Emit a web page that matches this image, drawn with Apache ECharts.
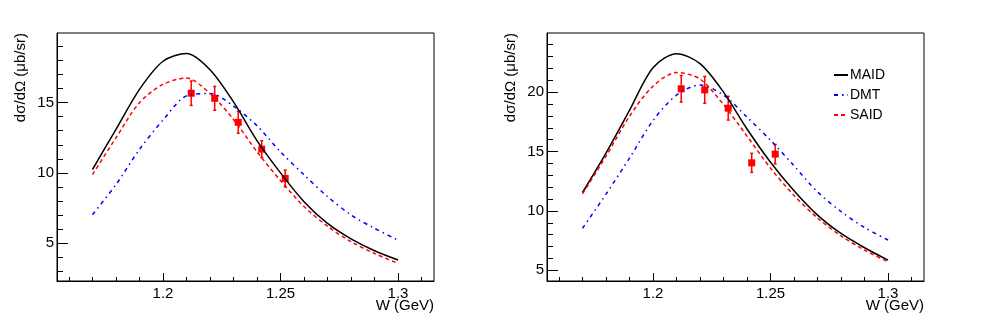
<!DOCTYPE html>
<html>
<head>
<meta charset="utf-8">
<script src="https://cdn.jsdelivr.net/npm/echarts@6/dist/echarts.min.js"></script>
<style>
html,body{margin:0;padding:0;background:#fff;}
#chart{width:981px;height:315px;}
</style>
</head>
<body>
<div id="chart"></div>
<script>
// ---- data ----
const W = [1.17, 1.18, 1.19, 1.20, 1.21, 1.22, 1.23, 1.24, 1.25, 1.26, 1.27, 1.28, 1.29, 1.30];

const maidLeft = [10.24, 13.1, 15.95, 17.95, 18.5, 17.35, 15.05, 12.3, 10.0, 7.95, 6.4, 5.3, 4.45, 3.79];
const saidLeft = [9.88, 12.5, 15.0, 16.3, 16.75, 15.65, 13.8, 11.5, 9.45, 7.6, 6.2, 5.1, 4.26, 3.55];
const dmtLeft  = [7.02, 9.17, 11.67, 13.76, 15.48, 15.65, 14.75, 13.35, 11.5, 9.86, 8.31, 7.0, 6.05, 5.21];

const maidRight = [11.55, 14.87, 18.47, 22.05, 23.24, 22.4, 20.0, 16.9, 14.1, 11.7, 9.65, 8.1, 6.9, 5.86];
const saidRight = [11.44, 14.6, 17.97, 20.5, 21.65, 21.1, 18.95, 16.3, 13.6, 11.3, 9.4, 7.9, 6.7, 5.72];
const dmtRight  = [8.54, 11.41, 14.45, 17.6, 19.75, 20.6, 19.75, 17.9, 15.95, 13.8, 11.6, 9.95, 8.6, 7.55];

const dataW      = [1.212, 1.222, 1.232, 1.242, 1.252];
const dataLeft   = [15.67, 15.31, 13.6, 11.69, 9.6];
const errLeft    = [0.87, 0.85, 0.78, 0.6, 0.6];
const dataRight  = [20.28, 20.19, 18.65, 14.05, 14.78];
const errRight   = [1.12, 1.13, 1.0, 0.8, 0.82];

const xMajorTicks = [1.2, 1.25, 1.3];
const xTickLabels = ['1.2', '1.25', '1.3'];
const xMinorTicks = [1.16, 1.17, 1.18, 1.19, 1.21, 1.22, 1.23, 1.24, 1.26, 1.27, 1.28, 1.29, 1.31];
const yMajorLeft  = [5, 10, 15];
const yMinorLeft  = [3, 4, 6, 7, 8, 9, 11, 12, 13, 14, 16, 17, 18, 19];
const yMajorRight = [5, 10, 15, 20];
const yMinorRight = [6, 7, 8, 9, 11, 12, 13, 14, 16, 17, 18, 19, 21, 22, 23, 24];

const seriesNames = ['MAID', 'DMT', 'SAID'];
const xTitle = 'W (GeV)';
const yTitle = 'dσ/dΩ (μb/sr)';

// ---- chart ----
const FONT = '"Liberation Sans", Arial, Helvetica, sans-serif';
const chart = echarts.init(document.getElementById('chart'), null, {renderer: 'canvas'});

const panels = [
  {left: 57, yMin: 2.3, yMax: 19.96, yMajor: yMajorLeft, yMinor: yMinorLeft,
   maid: maidLeft, said: saidLeft, dmt: dmtLeft, pts: dataLeft, err: errLeft},
  {left: 547, yMin: 4.1, yMax: 24.98, yMajor: yMajorRight, yMinor: yMinorRight,
   maid: maidRight, said: saidRight, dmt: dmtRight, pts: dataRight, err: errRight}
];

const grids = [], xAxes = [], yAxes = [], series = [], graphics = [];
const pair = (xs, ys) => xs.map((x, i) => [x, ys[i]]);

panels.forEach((p, gi) => {
  grids.push({left: p.left, top: 33, width: 377, height: 248, show: true,
    borderColor: '#000', borderWidth: 1, backgroundColor: 'rgba(0,0,0,0)'});
  const xMainIdx = xAxes.length;
  xAxes.push({gridIndex: gi, type: 'value', min: 1.1549, max: 1.3153, position: 'bottom',
    axisLine: {show: true, onZero: false, lineStyle: {color: '#000', width: 1}},
    axisTick: {show: true, inside: true, length: 8, customValues: xMajorTicks, lineStyle: {color: '#000', width: 1}},
    axisLabel: {show: true, customValues: xMajorTicks, margin: 5, fontSize: 15, fontFamily: FONT, color: '#000',
      formatter: v => { const k = xMajorTicks.findIndex(t => Math.abs(t - v) < 1e-6); return k >= 0 ? xTickLabels[k] : ''; }},
    splitLine: {show: false}});
  xAxes.push({gridIndex: gi, type: 'value', min: 1.1549, max: 1.3153, position: 'bottom',
    axisLine: {show: false, onZero: false},
    axisTick: {show: true, inside: true, length: 4, customValues: xMinorTicks, lineStyle: {color: '#000', width: 1}},
    axisLabel: {show: false}, splitLine: {show: false}});
  const yMainIdx = yAxes.length;
  yAxes.push({gridIndex: gi, type: 'value', min: p.yMin, max: p.yMax, position: 'left',
    axisLine: {show: true, onZero: false, lineStyle: {color: '#000', width: 1}},
    axisTick: {show: true, inside: true, length: 11, customValues: p.yMajor, lineStyle: {color: '#000', width: 1}},
    axisLabel: {show: true, customValues: p.yMajor, margin: 3, fontSize: 15, fontFamily: FONT, color: '#000'},
    splitLine: {show: false}});
  yAxes.push({gridIndex: gi, type: 'value', min: p.yMin, max: p.yMax, position: 'left',
    axisLine: {show: false, onZero: false},
    axisTick: {show: true, inside: true, length: 6, customValues: p.yMinor, lineStyle: {color: '#000', width: 1}},
    axisLabel: {show: false}, splitLine: {show: false}});

  const common = {type: 'line', xAxisIndex: xMainIdx, yAxisIndex: yMainIdx, symbol: 'none', showSymbol: false,
    smooth: 0.3, silent: true, animation: false};
  series.push(Object.assign({}, common, {name: seriesNames[0], data: pair(W, p.maid),
    itemStyle: {color: '#000'}, lineStyle: {color: '#000', width: 1.5, type: 'solid'}}));
  series.push(Object.assign({}, common, {name: seriesNames[1], data: pair(W, p.dmt),
    itemStyle: {color: '#0000ff'}, lineStyle: {color: '#0000ff', width: 1.5, type: [4, 4, 1.5, 4]}}));
  series.push(Object.assign({}, common, {name: seriesNames[2], data: pair(W, p.said),
    itemStyle: {color: '#ff0000'}, lineStyle: {color: '#ff0000', width: 1.5, type: [4, 3]}}));

  series.push({type: 'custom', xAxisIndex: xMainIdx, yAxisIndex: yMainIdx, silent: true, animation: false,
    encode: {x: 0, y: 1},
    data: dataW.map((x, i) => [x, p.pts[i], p.err[i]]),
    renderItem: (params, api) => {
      const x = api.value(0), y = api.value(1), e = api.value(2);
      const c = api.coord([x, y]);
      const t = api.coord([x, y + e]);
      const b = api.coord([x, y - e]);
      const st = {stroke: '#ff0000', lineWidth: 1.5};
      return {type: 'group', children: [
        {type: 'line', shape: {x1: c[0], y1: t[1], x2: c[0], y2: b[1]}, style: st},
        {type: 'line', shape: {x1: c[0] - 1.5, y1: t[1], x2: c[0] + 1.5, y2: t[1]}, style: st},
        {type: 'line', shape: {x1: c[0] - 1.5, y1: b[1], x2: c[0] + 1.5, y2: b[1]}, style: st},
        {type: 'rect', shape: {x: c[0] - 3.5, y: c[1] - 3.5, width: 7, height: 7}, style: {fill: '#ff0000'}}
      ]};
    }});

  graphics.push({type: 'text', x: p.left - 36, y: 33, rotation: Math.PI / 2,
    style: {text: yTitle, align: 'right', verticalAlign: 'middle', font: '15px ' + FONT, fill: '#000'}});
  graphics.push({type: 'text', x: p.left + 377, y: 306,
    style: {text: xTitle, align: 'right', verticalAlign: 'middle', font: '15px ' + FONT, fill: '#000'}});
});

chart.setOption({
  animation: false,
  backgroundColor: '#fff',
  grid: grids,
  xAxis: xAxes,
  yAxis: yAxes,
  series: series,
  graphic: graphics,
  legend: {show: true, data: seriesNames, orient: 'vertical', left: 828, top: 63,
    itemWidth: 14, itemHeight: 14, itemGap: 6, selectedMode: false,
    itemStyle: {opacity: 0},
    textStyle: {fontSize: 14, fontFamily: FONT, color: '#000', padding: [0, 0, 0, -3]}}
});
</script>
</body>
</html>
